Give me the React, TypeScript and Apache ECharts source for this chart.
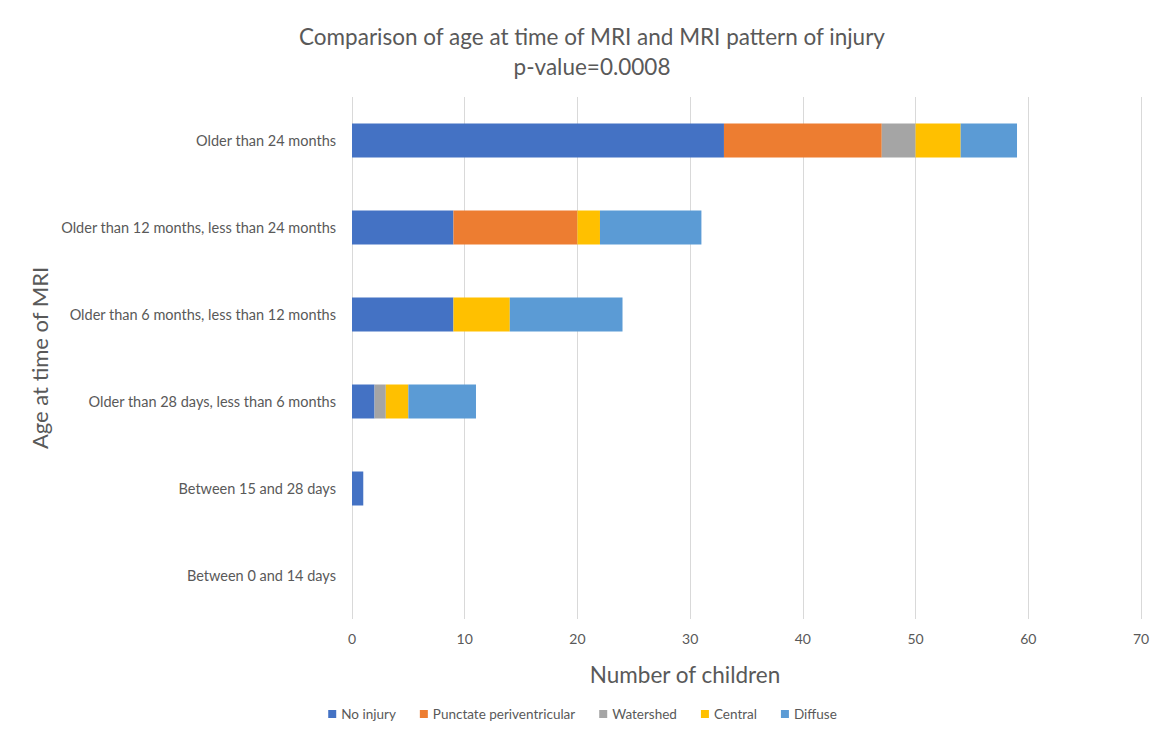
import React, { useEffect, useRef } from "react";
import * as echarts from "echarts";

const categories = [
  "Between 0 and 14 days",
  "Between 15 and 28 days",
  "Older than 28 days, less than 6 months",
  "Older than 6 months, less than 12 months",
  "Older than 12 months, less than 24 months",
  "Older than 24 months",
];

const noInjury = [0, 1, 2, 9, 9, 33];
const punctatePeriventricular = [0, 0, 0, 0, 11, 14];
const watershed = [0, 0, 1, 0, 0, 3];
const central = [0, 0, 2, 5, 2, 4];
const diffuse = [0, 0, 6, 10, 9, 5];

const seriesNames = ["No injury", "Punctate periventricular", "Watershed", "Central", "Diffuse"];
const seriesColors = ["#4472C4", "#ED7D31", "#A5A5A5", "#FFC000", "#5B9BD5"];
const seriesValues = [noInjury, punctatePeriventricular, watershed, central, diffuse];

const FONT = "Lato, 'Open Sans', sans-serif";

export default function App() {
  const ref = useRef<HTMLDivElement>(null);

  useEffect(() => {
    if (!ref.current) return;
    const chart = echarts.init(ref.current, null, { renderer: "svg" });
    chart.setOption({
      animation: false,
      backgroundColor: "#ffffff",
      textStyle: { fontFamily: FONT },
      title: {
        text: "Comparison of age at time of MRI and MRI pattern of injury\np-value=0.0008",
        left: 587,
        top: 16,
        textAlign: "center",
        textStyle: {
          fontFamily: FONT,
          fontSize: 22.5,
          fontWeight: "normal",
          color: "#595959",
          lineHeight: 30,
        },
      },
      legend: {
        data: seriesNames,
        bottom: 14,
        left: "center",
        itemWidth: 8,
        itemHeight: 8,
        itemGap: 24,
        icon: "rect",
        textStyle: { fontFamily: FONT, fontSize: 13.5, color: "#595959" },
      },
      grid: { left: 352, right: 24, top: 97, bottom: 121, containLabel: false },
      xAxis: {
        type: "value",
        min: 0,
        max: 70,
        interval: 10,
        axisLine: { show: false },
        axisTick: { show: false },
        axisLabel: { fontFamily: FONT, fontSize: 14, color: "#595959", margin: 12 },
        splitLine: { show: true, lineStyle: { color: "#d9d9d9", width: 1 } },
      },
      yAxis: {
        type: "category",
        data: categories,
        name: "Age at time of MRI",
        nameLocation: "middle",
        nameGap: 298,
        nameTextStyle: { fontFamily: FONT, fontSize: 22, color: "#595959" },
        axisLine: { show: false },
        axisTick: { show: false },
        axisLabel: { fontFamily: FONT, fontSize: 14.5, color: "#595959", margin: 16 },
      },
      graphic: [
        {
          type: "text",
          x: 685,
          y: 674,
          style: {
            text: "Number of children",
            fontFamily: FONT,
            fontSize: 22.5,
            fill: "#595959",
            textAlign: "center",
            textVerticalAlign: "middle",
          },
        },
      ],
      series: seriesNames.map((name, i) => ({
        name,
        type: "bar",
        stack: "total",
        barWidth: 34,
        itemStyle: { color: seriesColors[i] },
        data: seriesValues[i],
      })),
    });
    return () => chart.dispose();
  }, []);

  return (
    <div style={{ position: "relative", width: 1165, height: 740, margin: -8 }}>
      <div ref={ref} style={{ width: 1165, height: 740 }} />
      {/* chart frame: top and left edges */}
      <div
        style={{
          position: "absolute",
          left: 5,
          top: 5,
          right: -10,
          bottom: -10,
          borderTop: "2px solid #cfcfcf",
          borderLeft: "2px solid #cfcfcf",
          pointerEvents: "none",
        }}
      />
    </div>
  );
}
